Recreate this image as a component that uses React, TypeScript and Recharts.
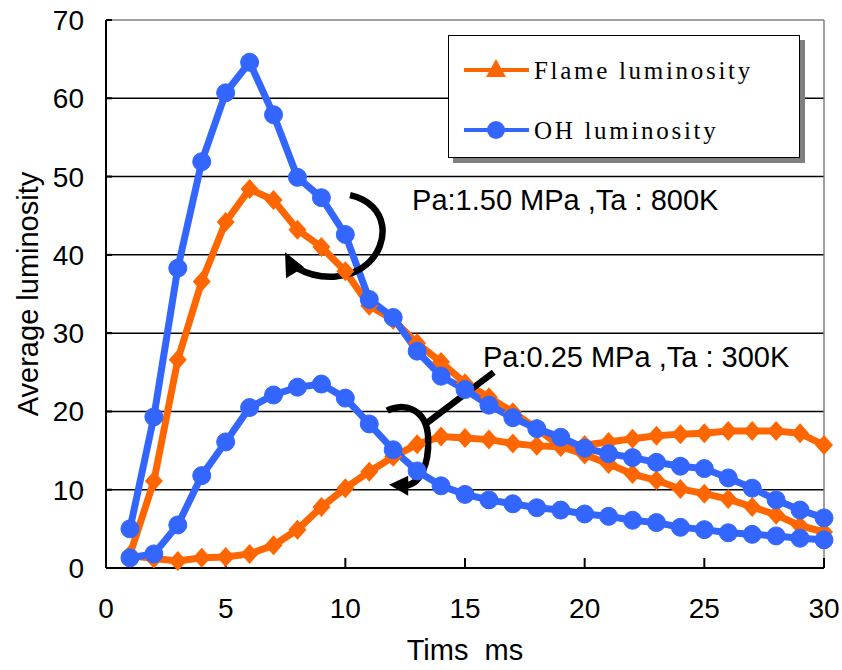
import React from 'react';
import {
  LineChart, Line, XAxis, YAxis, CartesianGrid, Legend, ReferenceDot, ReferenceLine, Label
} from 'recharts';

const ORANGE = '#FF6600';
const BLUE = '#3366FF';
const SANS = '"Liberation Sans", Arial, sans-serif';
const SERIF = '"Liberation Serif", "Times New Roman", serif';

// time axis (ms)
const times = [1, 2, 3, 4, 5, 6, 7, 8, 9, 10, 11, 12, 13, 14, 15, 16, 17, 18, 19, 20, 21, 22, 23, 24, 25, 26, 27, 28, 29, 30];

// Pa 1.50 MPa, Ta 800K
const flameHigh = [1.7, 11.1, 26.6, 36.6, 44.2, 48.4, 47.0, 43.2, 41.0, 37.9, 33.5, 31.7, 28.7, 26.3, 23.6, 21.8, 19.9, 17.8, 15.5, 14.5, 13.3, 12.0, 11.2, 10.1, 9.5, 8.8, 7.8, 6.8, 5.4, 4.6];
const ohHigh = [5.0, 19.3, 38.3, 51.9, 60.7, 64.6, 57.9, 49.9, 47.3, 42.6, 34.3, 32.0, 27.7, 24.5, 22.8, 20.8, 19.2, 17.8, 16.7, 15.3, 14.6, 14.1, 13.5, 13.0, 12.7, 11.5, 10.2, 8.7, 7.4, 6.4];

// Pa 0.25 MPa, Ta 300K
const flameLow = [1.6, 1.2, 0.9, 1.3, 1.4, 1.8, 2.9, 4.9, 7.8, 10.2, 12.3, 14.2, 15.8, 16.8, 16.6, 16.4, 15.9, 15.6, 15.5, 15.7, 16.1, 16.5, 16.9, 17.1, 17.2, 17.5, 17.5, 17.5, 17.2, 15.7];
const ohLow = [1.3, 1.8, 5.5, 11.8, 16.1, 20.5, 22.1, 23.1, 23.5, 21.7, 18.4, 15.1, 12.4, 10.5, 9.4, 8.7, 8.2, 7.7, 7.4, 6.9, 6.6, 6.1, 5.8, 5.2, 4.9, 4.5, 4.3, 4.1, 3.8, 3.6];

const xTicks = [0, 5, 10, 15, 20, 25, 30];
const yTicks = [0, 10, 20, 30, 40, 50, 60, 70];
const gridValues = [10, 20, 30, 40, 50, 60];

const data = times.map((t, i) => ({
  t,
  flameHigh: flameHigh[i],
  flameLow: flameLow[i],
  ohHigh: ohHigh[i],
  ohLow: ohLow[i],
}));

const Diamond = (props: any) => {
  const { cx, cy } = props;
  if (cx == null || cy == null) return null;
  return (
    <polygon
      points={`${cx},${cy - 10} ${cx + 9},${cy} ${cx},${cy + 10} ${cx - 9},${cy}`}
      fill={ORANGE}
    />
  );
};

// curved arrow around the 1.50 MPa pair
const CurlHigh = ({ cx, cy }: any) => (
  <g>
    <path
      d={`M ${cx + 15} ${cy - 37} C ${cx + 55} ${cy - 28}, ${cx + 55} ${cy + 12}, ${cx + 32} ${cy + 32} C ${cx + 15} ${cy + 47}, ${cx - 15} ${cy + 49}, ${cx - 38} ${cy + 36}`}
      fill="none" stroke="#000" strokeWidth={6.5}
    />
    <polygon points={`${cx - 50},${cy + 20} ${cx - 49},${cy + 46} ${cx - 31},${cy + 35}`} fill="#000" />
  </g>
);

// curved arrow around the 0.25 MPa pair
const CurlLow = ({ cx, cy }: any) => (
  <g>
    <path
      d={`M ${cx - 18} ${cy - 36} C ${cx - 4} ${cy - 44}, ${cx + 22} ${cy - 40}, ${cx + 23} ${cy - 8} C ${cx + 24} ${cy + 20}, ${cx + 14} ${cy + 38}, ${cx} ${cy + 39}`}
      fill="none" stroke="#000" strokeWidth={6.5}
    />
    <polygon points={`${cx - 16},${cy + 38} ${cx + 3},${cy + 29} ${cx + 3},${cy + 49}`} fill="#000" />
  </g>
);

const note = (text: string) => (p: any) => (
  <text x={p.cx} y={p.cy} fontFamily={SANS} fontSize={29} fill="#000" style={{ whiteSpace: 'pre' }}>
    {text}
  </text>
);

const renderLegend = () => (
  <div
    style={{
      width: 352, height: 123, boxSizing: 'border-box', background: '#fff',
      border: '1.5px solid #000', boxShadow: '5px 5px 0 #808080',
    }}
  >
    <svg width={349} height={120}>
      <line x1={15} y1={34} x2={80} y2={34} stroke={ORANGE} strokeWidth={4} />
      <polygon points="47,23 57,41 37,41" fill={ORANGE} />
      <text x={85} y={43} fontFamily={SERIF} fontSize={25} letterSpacing={2.7} fill="#000">Flame luminosity</text>
      <line x1={15} y1={94} x2={80} y2={94} stroke={BLUE} strokeWidth={4} />
      <circle cx={47} cy={94} r={9} fill={BLUE} />
      <text x={85} y={103} fontFamily={SERIF} fontSize={25} letterSpacing={2.7} fill="#000">OH luminosity</text>
    </svg>
  </div>
);

const App: React.FC = () => {
  const tickStyle = { fill: '#000', fontSize: 28, fontFamily: SANS };
  return (
    <div style={{ position: 'absolute', left: 0, top: 0, width: 842, height: 670, background: '#fff' }}>
      <LineChart width={842} height={670} data={data} margin={{ top: 20, right: 18, bottom: 0, left: 0 }}>
        <CartesianGrid vertical={false} horizontalValues={gridValues} stroke="#000" strokeWidth={1.5} />
        <ReferenceLine y={70} stroke="#808080" strokeWidth={1.5} />
        <ReferenceLine x={30} stroke="#808080" strokeWidth={1.5} />
        <XAxis
          dataKey="t" type="number" domain={[0, 30]} ticks={xTicks} height={102}
          axisLine={{ stroke: '#000', strokeWidth: 2 }} tickLine={{ stroke: '#000', strokeWidth: 2 }}
          tickSize={-10} tickMargin={40} tick={tickStyle}
        >
          <Label
            content={(p: any) => (
              <text x={p.viewBox.x + p.viewBox.width / 2} y={p.viewBox.y + 92} textAnchor="middle"
                fontFamily={SANS} fontSize={29} fill="#000" style={{ whiteSpace: 'pre' }}>
                {'Tims  ms'}
              </text>
            )}
          />
        </XAxis>
        <YAxis
          type="number" domain={[0, 70]} ticks={yTicks} width={106} interval={0}
          axisLine={{ stroke: '#000', strokeWidth: 2 }} tickLine={{ stroke: '#000', strokeWidth: 2 }}
          tickSize={-6} tickMargin={28} tick={tickStyle}
        >
          <Label
            content={(p: any) => (
              <text transform={`translate(38, ${p.viewBox.y + p.viewBox.height / 2}) rotate(-90)`} textAnchor="middle"
                fontFamily={SANS} fontSize={29} fill="#000">
                Average luminosity
              </text>
            )}
          />
        </YAxis>
        <Legend
          layout="horizontal" verticalAlign="middle" align="center"
          content={renderLegend}
          wrapperStyle={{ left: 448, top: 35, width: 352, height: 123 }}
        />
        <Line dataKey="flameHigh" type="linear" stroke={ORANGE} strokeWidth={7} dot={<Diamond />} isAnimationActive={false} legendType="none" />
        <Line dataKey="flameLow" type="linear" stroke={ORANGE} strokeWidth={7} dot={<Diamond />} isAnimationActive={false} legendType="none" />
        <Line dataKey="ohHigh" type="linear" stroke={BLUE} strokeWidth={7} dot={{ r: 9, fill: BLUE, stroke: BLUE, strokeWidth: 1 }} isAnimationActive={false} legendType="none" />
        <Line dataKey="ohLow" type="linear" stroke={BLUE} strokeWidth={7} dot={{ r: 9, fill: BLUE, stroke: BLUE, strokeWidth: 1 }} isAnimationActive={false} legendType="none" />
        <ReferenceDot x={9.57} y={42.9} r={0} ifOverflow="visible" shape={(p: any) => <CurlHigh cx={p.cx} cy={p.cy} />} />
        <ReferenceDot x={12.5} y={15.5} r={0} ifOverflow="visible" shape={(p: any) => <CurlLow cx={p.cx} cy={p.cy} />} />
        <ReferenceLine segment={[{ x: 13.4, y: 18.5 }, { x: 16.2, y: 25.0 }]} stroke="#000" strokeWidth={6.5} ifOverflow="visible" />
        <ReferenceDot x={12.79} y={45.7} r={0} ifOverflow="visible" shape={note('Pa:1.50 MPa ,Ta : 800K')} />
        <ReferenceDot x={15.75} y={25.7} r={0} ifOverflow="visible" shape={note('Pa:0.25 MPa ,Ta : 300K')} />
      </LineChart>
    </div>
  );
};

export default App;
